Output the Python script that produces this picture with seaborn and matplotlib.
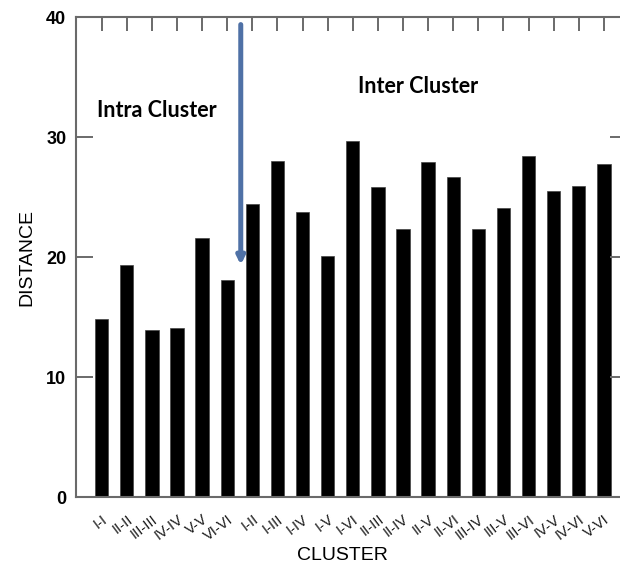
import matplotlib
matplotlib.use("Agg")
import matplotlib.pyplot as plt
import seaborn as sns
import pandas as pd

categories = ["I-I", "II-II", "III-III", "IV-IV", "V-V", "VI-VI",
              "I-II", "I-III", "I-IV", "I-V", "I-VI",
              "II-III", "II-IV", "II-V", "II-VI",
              "III-IV", "III-V", "III-VI",
              "IV-V", "IV-VI", "V-VI"]
distance = [14.8, 19.3, 13.9, 14.1, 21.6, 18.1,
            24.45, 28.0, 23.75, 20.1, 29.7,
            25.8, 22.3, 27.9, 26.7,
            22.3, 24.1, 28.4,
            25.5, 25.9, 27.75]
yticks = [0, 10, 20, 30, 40]

df = pd.DataFrame({"cluster": categories, "distance": distance})

sns.set_style("white")
plt.rcParams["font.family"] = ["Liberation Sans", "DejaVu Sans"]
plt.rcParams["text.color"] = "black"
plt.rcParams["axes.labelcolor"] = "black"
plt.rcParams["xtick.color"] = "black"
plt.rcParams["ytick.color"] = "black"

fig = plt.figure(figsize=(6.2, 5.65), dpi=100)
W, H = 620, 565
left, right, top, bottom = 76, 620, 17, 497
ax = fig.add_axes([left / W, 1 - bottom / H, (right - left) / W, (bottom - top) / H])

sns.barplot(data=df, x="cluster", y="distance", color="black", width=0.53,
            edgecolor="#444444", linewidth=0.5, saturation=1, ax=ax)

ax.set_xlim(-1.02, 20.64)
ax.set_ylim(0, 40)
ax.set_yticks(yticks)
ax.set_yticklabels([str(v) for v in yticks], fontweight="bold", fontsize=13)

spine_c = "#6a6a6a"
for s in ["left", "top", "bottom"]:
    ax.spines[s].set_visible(True)
    ax.spines[s].set_color(spine_c)
    ax.spines[s].set_linewidth(1.5)
ax.spines["right"].set_visible(False)

ax.tick_params(axis="y", which="major", direction="in", left=True, right=False,
               length=12, width=1.4, color=spine_c, pad=7, labelcolor="black")
ax.tick_params(axis="x", which="major", direction="in", bottom=False, top=True,
               length=10, width=1.4, color=spine_c, pad=11, labelcolor="black")

ax.set_xticks(range(len(categories)))
ax.set_xticklabels(categories, rotation=37, ha="right", va="top",
                   rotation_mode="anchor", fontsize=10.5, color="#1a1a1a")

# right-side short ticks
axr = ax.twinx()
axr.set_ylim(0, 40)
axr.set_yticks(yticks)
axr.tick_params(axis="y", direction="in", right=True, left=False, length=7,
                width=1.4, color=spine_c, labelright=False)
for s in axr.spines.values():
    s.set_visible(False)

ax.set_ylabel("DISTANCE", fontsize=14, labelpad=8)
ax.set_xlabel("CLUSTER", fontsize=14, va="center")
ax.xaxis.set_label_coords((342 - left) / (right - left), -(556 - bottom) / (bottom - top))

ax.annotate("", xy=(5.54, 19.1), xytext=(5.54, 39.6),
            arrowprops=dict(arrowstyle="-|>,head_length=0.45,head_width=0.22",
                            color="#4F71A6", lw=3.6))

ax.text(-0.19, 32.2, "Intra Cluster", fontsize=15.5, fontweight="bold",
        family=["Lato", "DejaVu Sans"], va="center", ha="left")
ax.text(10.21, 34.2, "Inter Cluster", fontsize=15.5, fontweight="bold",
        family=["Lato", "DejaVu Sans"], va="center", ha="left")

fig.savefig("out.png", dpi=100)
